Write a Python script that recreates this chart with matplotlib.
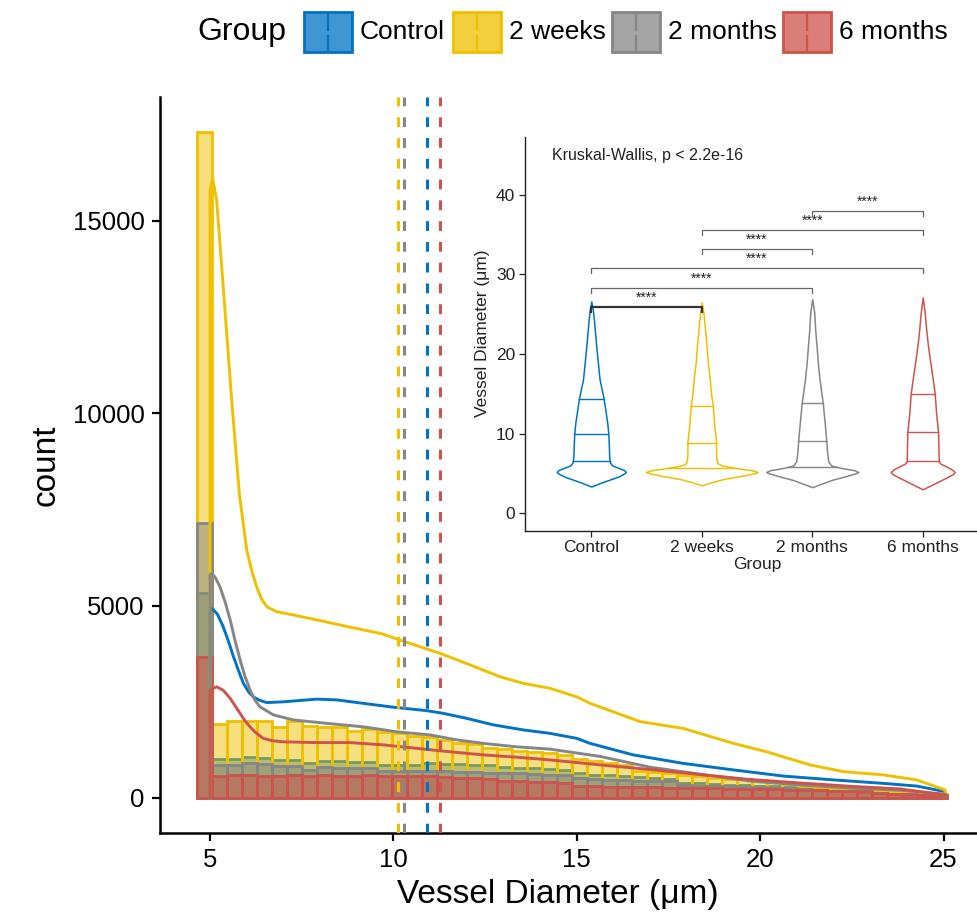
import numpy as np
import matplotlib
matplotlib.use("Agg")
import matplotlib.pyplot as plt
from matplotlib.colors import to_rgba
from matplotlib.patches import Rectangle

plt.rcParams["font.family"] = ["Liberation Sans", "DejaVu Sans"]

groups = ["Control", "2 weeks", "2 months", "6 months"]
colors = ["#0073C2", "#EFC000", "#868686", "#CD534C"]

# histogram, 50 bins
bin_start = 4.64
bin_width = 0.409
hist_control = [5330, 1010, 1010, 1060, 1040, 990, 990, 900, 960, 950,
                940, 930, 870, 860, 860, 900, 890, 880, 870, 860,
                800, 790, 770, 760, 740, 640, 610, 590, 560, 540,
                520, 500, 400, 380, 360, 350, 330, 310, 300, 280,
                250, 230, 210, 190, 165, 135, 115, 95, 80, 65]
hist_2w = [17300, 1915, 2000, 2000, 2000, 1840, 2000, 1870, 1840, 1840,
           1750, 1785, 1725, 1680, 1600, 1580, 1520, 1440, 1400, 1310,
           1270, 1220, 1190, 1160, 1130, 1005, 970, 900, 860, 710,
           685, 660, 600, 560, 510, 485, 485, 468, 425, 355,
           320, 295, 250, 235, 208, 190, 165, 140, 120, 100]
hist_2m = [7150, 860, 860, 920, 885, 830, 830, 720, 800, 790,
           785, 775, 700, 690, 690, 700, 690, 680, 670, 660,
           650, 640, 620, 610, 600, 520, 500, 480, 460, 450,
           440, 430, 330, 320, 310, 300, 290, 280, 270, 260,
           230, 210, 190, 170, 150, 120, 100, 85, 70, 55]
hist_6m = [3670, 570, 590, 585, 575, 580, 585, 570, 590, 575,
           580, 585, 570, 575, 565, 560, 540, 530, 520, 505,
           445, 435, 420, 410, 400, 310, 305, 295, 290, 280,
           275, 270, 255, 250, 250, 245, 245, 230, 225, 215,
           205, 195, 190, 180, 170, 120, 110, 100, 90, 80]

# density curves on the count scale
dens_x_control = [5.0, 5.05, 5.2, 5.36, 5.5, 5.64, 5.78, 5.91, 6.05, 6.18, 6.35, 6.55, 7.0, 7.91, 8.46,
                  9.18, 10.0, 10.91, 11.36, 12.0, 12.73, 13.54, 14.27, 15.0, 15.36,
                  16.54, 17.9, 19.27, 20.63, 22.0, 23.36, 24.27, 25.04]
dens_y_control = [4850, 4930, 4780, 4450, 4080, 3670, 3300, 2980, 2760, 2630, 2540, 2480, 2500, 2570, 2550,
                  2460, 2360, 2270, 2200, 2070, 1900, 1770, 1680, 1550, 1420,
                  1120, 900, 730, 570, 470, 380, 310, 165]
dens_x_2w = [5.0, 5.07, 5.18, 5.36, 5.59, 5.8, 6.0, 6.14, 6.27, 6.4, 6.55, 6.82,
             7.26, 7.91, 8.82, 9.64, 10.45, 11.27, 12.09, 12.91, 13.54, 14.27,
             15.0, 15.36, 16.73, 17.9, 19.27, 20.18, 21.36, 22.27, 23.36, 24.27, 25.04]
dens_y_2w = [15800, 16100, 15550, 13290, 10350, 7900, 6450, 5900, 5490, 5180, 4970, 4840,
             4760, 4630, 4440, 4280, 4020, 3760, 3460, 3150, 2980, 2850,
             2630, 2460, 1985, 1810, 1420, 1200, 860, 685, 600, 470, 210]
dens_x_2m = [5.0, 5.05, 5.15, 5.27, 5.41, 5.55, 5.68, 5.82, 5.95, 6.09, 6.22, 6.36, 6.73, 7.27, 8.18,
             9.18, 10.09, 11.0, 11.73, 12.45, 13.36, 14.27, 15.64, 17.0, 18.36,
             19.73, 21.09, 22.45, 23.82, 25.04]
dens_y_2m = [5800, 5840, 5720, 5490, 5100, 4630, 4100, 3590, 3170, 2810, 2550, 2370, 2160, 2030, 1940,
             1850, 1720, 1640, 1510, 1420, 1330, 1270, 1080, 800, 620,
             440, 340, 260, 200, 100]
dens_x_6m = [5.0, 5.18, 5.36, 5.55, 5.68, 5.82, 5.95, 6.09, 6.27, 6.45, 6.7, 7.0, 7.91, 8.82, 9.73,
             10.64, 11.55, 12.45, 13.36, 14.27, 15.64, 17.0, 18.36, 19.73, 21.09,
             22.45, 23.82, 25.04]
dens_y_6m = [2810, 2890, 2800, 2590, 2400, 2200, 2010, 1850, 1680, 1550, 1490, 1460, 1440, 1440, 1380,
             1290, 1200, 1120, 1060, 990, 860, 740, 610, 480, 390,
             305, 235, 80]

group_means = [10.92, 10.12, 10.30, 11.28]

# violin inset: diameter values and half widths (category units)
vio_y_control = [3.35, 3.8, 4.2, 4.6, 5.0, 5.17, 5.4, 5.7, 6.0, 6.3, 6.6, 7.5, 8.5,
                 10.0, 11.3, 12.6, 14.3, 15.5, 16.8, 19.0, 21.0, 23.0, 24.3, 25.5, 26.6]
vio_w_control = [0, .082, .163, .245, .299, .313, .299, .245, .190, .172, .166, .161, .159,
                 .154, .145, .131, .113, .095, .075, .059, .045, .032, .024, .014, 0]
vio_y_2w = [3.5, 3.9, 4.3, 4.7, 5.0, 5.17, 5.4, 5.7, 6.0, 6.3, 7.0, 8.5, 8.9,
            11.0, 13.5, 15.0, 16.8, 19.0, 21.0, 23.0, 25.2, 26.5]
vio_w_2w = [0, .091, .199, .363, .471, .506, .453, .299, .181, .141, .131, .129, .131,
            .113, .100, .084, .073, .054, .044, .030, .015, 0]
vio_y_2m = [3.27, 3.7, 4.2, 4.6, 5.0, 5.17, 5.4, 5.7, 6.0, 6.5, 7.5, 9.1, 11.0,
            13.9, 16.8, 19.0, 21.0, 23.0, 25.2, 26.9]
vio_w_2m = [0, .082, .181, .290, .390, .417, .381, .254, .172, .145, .136, .127, .115,
            .095, .066, .050, .039, .027, .018, 0]
vio_y_6m = [3.0, 3.5, 4.0, 4.5, 4.9, 5.17, 5.5, 5.9, 6.2, 6.5, 8.5, 10.2, 12.6,
            15.0, 16.8, 19.0, 21.0, 23.0, 25.2, 27.1]
vio_w_6m = [0, .073, .145, .218, .272, .290, .263, .209, .163, .145, .142, .139, .121,
            .109, .091, .068, .048, .032, .018, 0]
quartiles = [[6.6, 10.0, 14.3], [5.67, 8.85, 13.45], [5.8, 9.1, 13.9], [6.5, 10.2, 15.0]]

# pairwise comparisons: (group a, group b, bracket height)
comparisons = [(1, 2, 25.96), (1, 3, 28.35), (1, 4, 30.8),
               (2, 3, 33.2), (2, 4, 35.6), (3, 4, 38.0)]

hists = [hist_control, hist_2w, hist_2m, hist_6m]
dens = [(dens_x_control, dens_y_control), (dens_x_2w, dens_y_2w),
        (dens_x_2m, dens_y_2m), (dens_x_6m, dens_y_6m)]
violins = [(vio_y_control, vio_w_control), (vio_y_2w, vio_w_2w),
           (vio_y_2m, vio_w_2m), (vio_y_6m, vio_w_6m)]

W, H = 977, 918
fig = plt.figure(figsize=(W / 100, H / 100), dpi=100)

# main histogram panel
ax = fig.add_axes([160 / W, 85 / H, 825 / W, 736 / H])
centers = bin_start + bin_width * (np.arange(50) + 0.5)
for h, c in zip(hists, colors):
    ax.bar(centers, h, width=bin_width, facecolor=to_rgba(c, 0.5),
           edgecolor=c, linewidth=2.0, zorder=2)
for (dx, dy), c in zip(dens, colors):
    xs = np.concatenate([[dx[0]], dx, [dx[-1]]])
    ys = np.concatenate([[0], dy, [0]])
    ax.plot(xs, ys, color=c, lw=2.1, zorder=3, solid_joinstyle="round")
for m, c in zip(group_means, colors):
    ax.axvline(m, color=c, lw=2.2, linestyle=(0, (3.2, 3.6)), zorder=4)

ax.set_xlim(3.636, 26.13)
ax.set_ylim(-910, 18222)
ax.set_xticks([5, 10, 15, 20, 25])
ax.set_yticks([0, 5000, 10000, 15000])
for s in ["top", "right"]:
    ax.spines[s].set_visible(False)
for s in ["left", "bottom"]:
    ax.spines[s].set_linewidth(1.8)
ax.tick_params(axis="both", length=6, width=1.6, labelsize=18.5, pad=5,
               colors="black")
ax.set_xlabel("Vessel Diameter (μm)", fontsize=24, labelpad=4)
ax.xaxis.set_label_coords((558 - 160) / 825, -0.062)
ax.set_ylabel("count", fontsize=24, labelpad=8)

# legend strip across the top
lax = fig.add_axes([0, 0, 1, 1], facecolor="none")
lax.set_xlim(0, W)
lax.set_ylim(H, 0)
lax.axis("off")
lax.text(197, 32, "Group", fontsize=23, ha="left", va="center")
key_left = [304, 453, 612, 783]
for g, c, kx in zip(groups, colors, key_left):
    lax.add_patch(Rectangle((kx, 12), 48, 40, facecolor=to_rgba(c, 0.75),
                            edgecolor=c, lw=2))
    lax.plot([kx + 24, kx + 24], [14, 30], color=c, lw=1.6)
    lax.plot([kx + 24, kx + 24], [36, 50], color=c, lw=1.6)
    lax.text(kx + 56, 32, g, fontsize=19, ha="left", va="center")

# violin inset
iax = fig.add_axes([525 / W, (H - 530.7) / H, 464 / W, 394 / H], facecolor="white")
pos = np.arange(1, 5)
for p, (vy, vw), q, c in zip(pos, violins, quartiles, colors):
    vy = np.array(vy)
    vw = np.array(vw)
    iax.fill_betweenx(vy, p - vw, p + vw, facecolor="white", edgecolor=c, lw=1.1)
    for qv in q:
        hw = np.interp(qv, vy, vw)
        iax.plot([p - hw, p + hw], [qv, qv], color=c, lw=1.0)

for a, b, yb in comparisons:
    col = "#333333" if (a, b) == (1, 2) else "#666666"
    lw = 1.6 if (a, b) == (1, 2) else 0.9
    iax.plot([a, a, b, b], [yb - 0.65, yb, yb, yb - 0.65], color=col, lw=lw)
    iax.text((a + b) / 2, yb + 0.25, "****", fontsize=10, ha="center",
             va="bottom", color="#222222")

iax.text(0.64, 44.9, "Kruskal-Wallis, p < 2.2e-16", fontsize=11.5,
         ha="left", va="center", color="#222222")
iax.set_xlim(0.4, 4.6)
iax.set_ylim(-2.2, 47.3)
iax.set_xticks(pos)
iax.set_xticklabels(groups)
iax.set_yticks([0, 10, 20, 30, 40])
for s in ["top", "right"]:
    iax.spines[s].set_visible(False)
for s in ["left", "bottom"]:
    iax.spines[s].set_linewidth(1.0)
    iax.spines[s].set_color("#222222")
iax.tick_params(axis="both", length=4, width=0.9, labelsize=12.5,
                colors="#222222", pad=3)
iax.set_xlabel("Group", fontsize=12.5, labelpad=1, color="#222222")
iax.set_ylabel("Vessel Diameter (μm)", fontsize=12.5, labelpad=4, color="#222222")

fig.savefig("out.png", dpi=100)
